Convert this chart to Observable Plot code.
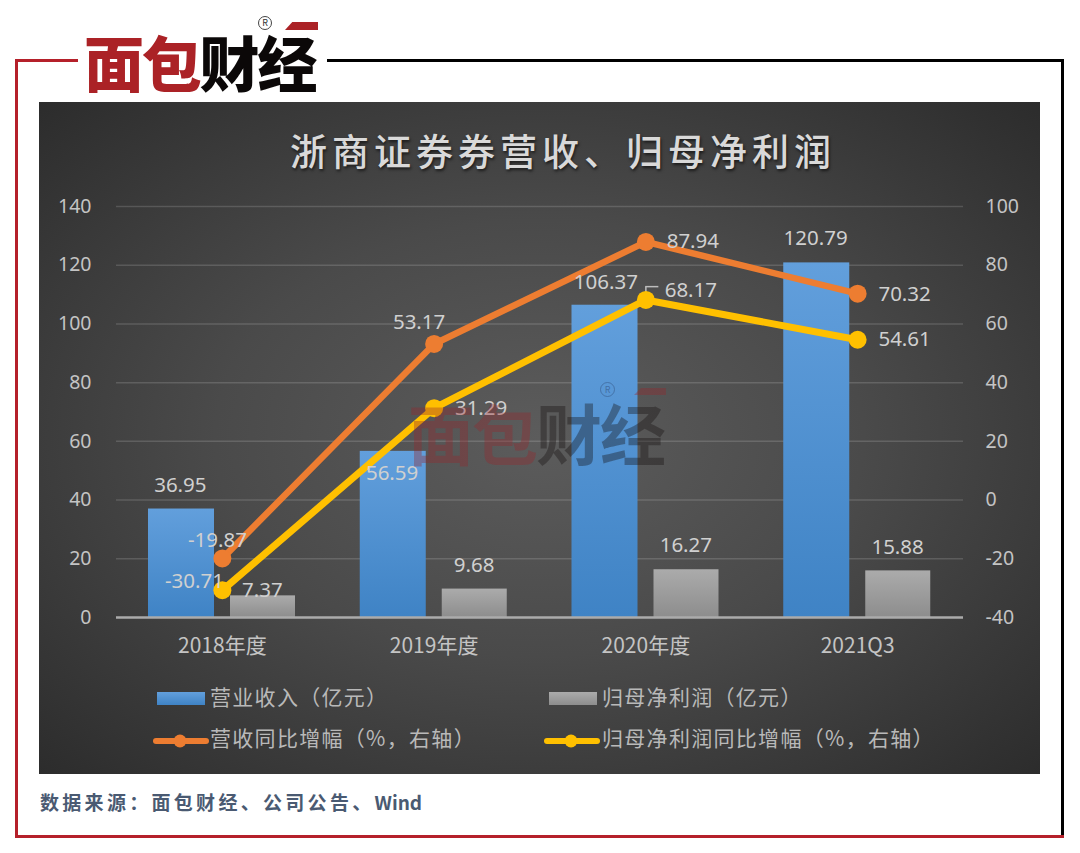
<!DOCTYPE html>
<html lang="zh">
<head>
<meta charset="utf-8">
<script src="https://cdn.jsdelivr.net/npm/d3@7"></script>
<script src="https://cdn.jsdelivr.net/npm/@observablehq/plot@0.6"></script>
<style>
html,body{margin:0;padding:0;background:#fff;}
body{position:relative;width:1080px;height:853px;overflow:hidden;font-family:"Noto Sans CJK SC","Noto Sans",sans-serif;}
.abs{position:absolute;}
#panel{left:39px;top:102px;width:1001px;height:672px;background:radial-gradient(ellipse 72% 72% at 50% 50%,#5c5c5c 0%,#4a4a4a 45%,#2b2b2b 100%);}
#chart{left:0;top:0;width:1080px;height:853px;}
#chart svg{background:transparent;display:block;}
#title{left:290px;top:124px;font-size:37px;line-height:52px;letter-spacing:5px;font-weight:500;color:#d9d9d9;text-shadow:1px 2px 3px rgba(0,0,0,.6);white-space:nowrap;}
.lg{position:absolute;font-size:21px;line-height:30px;letter-spacing:1.3px;color:#b9b9b9;white-space:nowrap;}
.sw{position:absolute;}
#caption{left:40px;top:788px;font-weight:700;font-size:19px;line-height:28px;letter-spacing:3.3px;color:#4a5a72;white-space:nowrap;}
#caption span{letter-spacing:0;}
.logo{position:absolute;white-space:nowrap;}
.reg{position:absolute;border-radius:50%;box-sizing:border-box;text-align:center;}
</style>
</head>
<body>
<svg width="0" height="0" style="position:absolute">
<defs>
<linearGradient id="blueBar" x1="0" y1="0" x2="0" y2="1"><stop offset="0" stop-color="#629fdc"/><stop offset="1" stop-color="#3f83c5"/></linearGradient>
<linearGradient id="grayBar" x1="0" y1="0" x2="0" y2="1"><stop offset="0" stop-color="#ababab"/><stop offset="1" stop-color="#8d8d8d"/></linearGradient>
</defs>
</svg>
<div class="abs" id="panel"></div>
<!-- frame -->
<div class="abs" style="left:15px;top:59px;width:3px;height:779px;background:#b5202a"></div>
<div class="abs" style="left:15px;top:59px;width:63px;height:3px;background:#b5202a"></div>
<div class="abs" style="left:327px;top:59px;width:737px;height:3px;background:#000"></div>
<div class="abs" style="left:1061px;top:59px;width:3px;height:777px;background:#000"></div>
<div class="abs" style="left:15px;top:835px;width:1049px;height:3px;background:#b5202a"></div>
<div class="abs" style="left:78px;top:14px;width:249px;height:88px;background:#fff"></div>
<!-- logo -->
<div class="logo" style="left:84px;top:17px;font-size:60px;font-weight:900;line-height:88px;letter-spacing:-2.2px;"><span style="color:#ab2226">面包</span><span style="color:#0b0808">财经</span></div>
<div class="abs" style="left:285px;top:22px;width:33px;height:8px;background:#ab2226;clip-path:polygon(22% 0,100% 0,100% 100%,0 100%)"></div>
<div class="reg" style="left:258px;top:16px;width:14px;height:14px;border:1px solid #444;font-size:9px;line-height:12px;color:#333">R</div>

<div class="abs" id="title">浙商证券券营收、归母净利润</div>
<div class="abs" id="chart"></div>

<!-- watermark -->
<div class="logo" style="left:408px;top:389px;font-size:66px;font-weight:700;line-height:84px;letter-spacing:-2px;"><span style="color:rgba(150,40,45,.36)">面包</span><span style="color:rgba(20,15,15,.36)">财经</span></div>
<div class="abs" style="left:634px;top:388px;width:32px;height:7px;background:rgba(150,40,45,.36);clip-path:polygon(22% 0,100% 0,100% 100%,0 100%)"></div>
<div class="reg" style="left:600px;top:382px;width:15px;height:15px;border:1px solid rgba(60,100,150,.7);font-size:9px;line-height:13px;color:rgba(60,100,150,.8)">R</div>

<!-- legend -->
<div class="sw" style="left:157px;top:692px;width:48px;height:13px;background:linear-gradient(#629fdc,#3f83c5)"></div>
<div class="lg" style="left:210px;top:681px">营业收入（亿元）</div>
<div class="sw" style="left:549px;top:692px;width:48px;height:13px;background:linear-gradient(#ababab,#8d8d8d)"></div>
<div class="lg" style="left:602px;top:681px">归母净利润（亿元）</div>
<svg class="sw" style="left:150px;top:728px" width="62" height="26"><line x1="6" y1="13" x2="56" y2="13" stroke="#ed7d31" stroke-width="6" stroke-linecap="round"/><circle cx="30" cy="13" r="6.5" fill="#ed7d31"/></svg>
<div class="lg" style="left:210px;top:722px">营收同比增幅（%，右轴）</div>
<svg class="sw" style="left:541px;top:728px" width="62" height="26"><line x1="6" y1="13" x2="56" y2="13" stroke="#ffc000" stroke-width="6" stroke-linecap="round"/><circle cx="30" cy="13" r="6.5" fill="#ffc000"/></svg>
<div class="lg" style="left:602px;top:722px">归母净利润同比增幅（%，右轴）</div>

<div class="abs" id="caption">数据来源：面包财经、公司公告、<span>Wind</span></div>

<script>
const categories = ["2018年度", "2019年度", "2020年度", "2021Q3"];
const revenue = [36.95, 56.59, 106.37, 120.79];
const netProfit = [7.37, 9.68, 16.27, 15.88];
const revenueGrowth = [-19.87, 53.17, 87.94, 70.32];
const profitGrowth = [-30.71, 31.29, 68.17, 54.61];
const leftTicks = [0, 20, 40, 60, 80, 100, 120, 140];
const rightTicks = [-40, -20, 0, 20, 40, 60, 80, 100];
const leaderTop = 112.7, leaderBottom = 109.5;

// right axis runs -40..100 over the same span as the left 0..140
const toLeft = v => v + 40;
const rows = categories.map((c, i) => ({
  c, revenue: revenue[i], profit: netProfit[i],
  revG: toLeft(revenueGrowth[i]), proG: toLeft(profitGrowth[i]),
  revGL: revenueGrowth[i], proGL: profitGrowth[i]
}));
const fmt = v => v.toFixed(2);
const numFont = "'Noto Sans','Open Sans',sans-serif";
const labelFont = {fill: "#d0d0d0", fontSize: 20.5, fontFamily: numFont, letterSpacing: "0.3px"};

function lbl(i, y, value, dx, dy) {
  return Plot.text([rows[i]], {x: "c", y, text: d => fmt(d[value]), dx, dy, ...labelFont});
}

const plot = Plot.plot({
  width: 1080, height: 853,
  marginLeft: 116, marginRight: 117, marginTop: 206, marginBottom: 236,
  style: {background: "transparent", fontFamily: "'Noto Sans CJK SC','Noto Sans',sans-serif"},
  x: {domain: categories, padding: 0, round: false, axis: null},
  y: {domain: [0, 140], axis: null},
  marks: [
    Plot.ruleY(leftTicks.filter(d => d > 0), {stroke: "#fff", strokeOpacity: 0.15, strokeWidth: 1.5}),
    Plot.barY(rows, {x: "c", y: "revenue", fill: "url(#blueBar)", insetLeft: 32, insetRight: 113.75}),
    Plot.barY(rows, {x: "c", y: "profit", fill: "url(#grayBar)", insetLeft: 114, insetRight: 32.75}),
    Plot.ruleY([0], {stroke: "#ababab", strokeWidth: 2.5}),
    Plot.axisY({anchor: "left", ticks: leftTicks, tickSize: 0, tickPadding: 25, label: null, fill: "#c4c4c4", fontSize: 19.5, fontFamily: numFont}),
    Plot.axisY({anchor: "right", ticks: rightTicks.map(toLeft), tickFormat: d => d - 40, tickSize: 0, tickPadding: 22, label: null, fill: "#c4c4c4", fontSize: 19.5, fontFamily: numFont}),
    Plot.text(categories, {x: d => d, frameAnchor: "bottom", dy: 29, text: d => d, fill: "#c4c4c4", fontSize: 21, letterSpacing: "1.2px"}),
    Plot.ruleX([categories[2]], {x: d => d, y1: leaderTop, y2: leaderBottom, stroke: "#bdbdbd", strokeWidth: 1.5}),
    Plot.tickY([leaderTop], {x: () => categories[2], y: d => d, insetLeft: 105.9, insetRight: 92.9, stroke: "#bdbdbd", strokeWidth: 1.5}),
    Plot.line(rows, {x: "c", y: "revG", stroke: "#ed7d31", strokeWidth: 6.5, curve: "linear"}),
    Plot.dot(rows, {x: "c", y: "revG", fill: "#ed7d31", r: 9}),
    Plot.line(rows, {x: "c", y: "proG", stroke: "#ffc000", strokeWidth: 7, curve: "linear"}),
    Plot.dot(rows, {x: "c", y: "proG", fill: "#ffc000", r: 9}),
    // bar value labels
    lbl(0, "revenue", "revenue", -42, -24), lbl(1, "revenue", "revenue", -42, 22),
    lbl(2, "revenue", "revenue", -40, -23), lbl(3, "revenue", "revenue", -42, -24),
    lbl(0, "profit", "profit", 40, -5), lbl(1, "profit", "profit", 40, -24),
    lbl(2, "profit", "profit", 40, -24), lbl(3, "profit", "profit", 40, -23),
    // line value labels
    lbl(0, "revG", "revGL", -5, -18), lbl(1, "revG", "revGL", -15, -22),
    lbl(2, "revG", "revGL", 47, 0), lbl(3, "revG", "revGL", 47, 1),
    lbl(0, "proG", "proGL", -28, -9), lbl(1, "proG", "proGL", 47, 0),
    lbl(2, "proG", "proGL", 45, -10), lbl(3, "proG", "proGL", 47, 0)
  ]
});
// category labels sit lower than the frame edge allows via dy alone
plot.querySelectorAll("text").forEach(t => { if (categories.includes(t.textContent)) t.setAttribute("dy", "6"); });
document.getElementById("chart").appendChild(plot);
</script>
</body>
</html>
